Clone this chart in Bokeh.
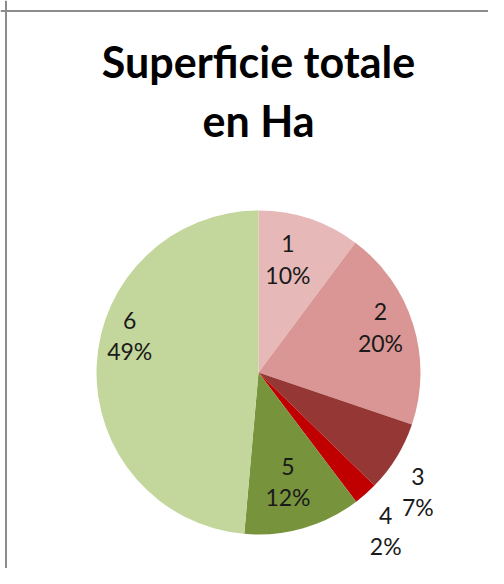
import math
from bokeh.plotting import figure
from bokeh.models import Range1d, Label, Span, ColumnDataSource
from bokeh.core.properties import value
from bokeh.embed import file_html
from bokeh.resources import INLINE

# ---- data ----
categories = ["1", "2", "3", "4", "5", "6"]
shares = [10.2, 20.0, 7.1, 2.4, 11.7, 48.6]
pct_labels = ["10%", "20%", "7%", "2%", "12%", "49%"]
colors = ["#E6B9B8", "#D99694", "#953735", "#C00000", "#77933C", "#C3D69B"]
title_lines = ["Superficie totale", "en Ha"]

# ---- layout (pixel coordinates inside the figure, y downwards) ----
W, H = 488, 568
def Y(py):
    return H - py

cx, cy = 258, 372          # pie centre
R = 162                    # pie radius, px
label_r = [117, 130, 199, 203, 113, 134]
label_dtheta = [-3.8, -3.0, 5.3, 2.6, 0.9, 13.5]
line_gap = 15.5
font = "Lato"

p = figure(width=W, height=H, output_backend="svg", toolbar_location=None,
           x_range=Range1d(0, W), y_range=Range1d(0, H), min_border=0)
p.axis.visible = False
p.grid.visible = False
p.outline_line_color = None
p.background_fill_color = "white"
p.border_fill_color = "white"

total = sum(shares)
starts, ends, mids = [], [], []
cum = 0.0
for s in shares:
    a0 = cum / total
    cum += s
    a1 = cum / total
    starts.append(math.pi / 2 - 2 * math.pi * a1)
    ends.append(math.pi / 2 - 2 * math.pi * a0)
    mids.append(360 * (a0 + a1) / 2)

src = ColumnDataSource(dict(start=starts, end=ends, color=colors,
                            x=[cx] * len(shares), y=[Y(cy)] * len(shares)))
p.wedge(x="x", y="y", radius=R, radius_units="screen", start_angle="start",
        end_angle="end", direction="anticlock", fill_color="color",
        line_color=None, source=src)

lx, ly_cat, ly_pct = [], [], []
for m, r, d in zip(mids, label_r, label_dtheta):
    th = math.radians(m + d)
    x = cx + r * math.sin(th)
    py = cy - r * math.cos(th)
    lx.append(x)
    ly_cat.append(Y(py - line_gap))
    ly_pct.append(Y(py + line_gap))

p.text(x=lx, y=ly_cat, text=categories, text_font=value(font),
       text_font_size="23px", text_align="center", text_baseline="middle",
       text_color="#1a1a1a")
p.text(x=lx, y=ly_pct, text=pct_labels, text_font=value(font),
       text_font_size="23px", text_align="center", text_baseline="middle",
       text_color="#1a1a1a")

for t, base in zip(title_lines, [61, 120]):
    p.add_layout(Label(x=258, y=Y(base), text=t, text_font=font,
                       text_font_size="43px", text_font_style="bold",
                       text_align="center", text_baseline="alphabetic",
                       text_color="#000000"))

# chart area border (left and top edges visible)
p.add_layout(Span(location=5.5, dimension="height", line_color="#8c8c8c", line_width=2))
p.add_layout(Span(location=Y(10.5), dimension="width", line_color="#8c8c8c", line_width=2))

open("out.html", "w").write(file_html(p, INLINE))
